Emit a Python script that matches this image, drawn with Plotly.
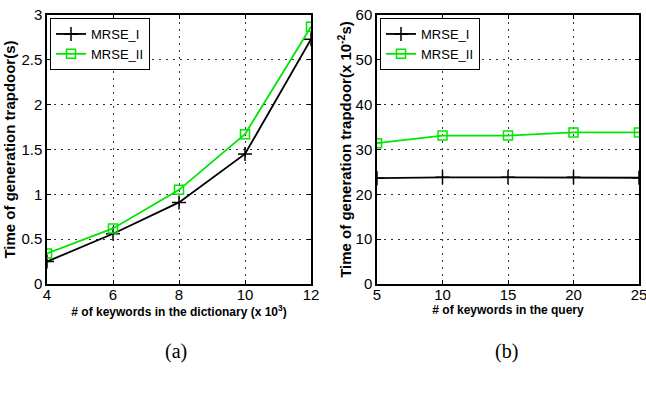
import plotly.graph_objects as go

# Data
dict_keywords = [4, 6, 8, 10, 12]
a_mrse1 = [0.25, 0.56, 0.91, 1.45, 2.73]
a_mrse2 = [0.34, 0.62, 1.05, 1.67, 2.87]

query_keywords = [5, 10, 15, 20, 25]
b_mrse1 = [23.6, 23.8, 23.8, 23.8, 23.7]
b_mrse2 = [31.4, 33.1, 33.1, 33.8, 33.8]

a_yticks = [0, 0.5, 1, 1.5, 2, 2.5, 3]
a_yticklabels = ["0", "0.5", "1", "1.5", "2", "2.5", "3"]
b_yticks = [0, 10, 20, 30, 40, 50, 60]

W, H = 646, 397
def px(x):
    return x / W
def py(y):
    return 1 - y / H

FONT = "Liberation Sans"
GREEN = "#00e600"

fig = go.Figure()

fig.add_trace(go.Scatter(x=dict_keywords, y=a_mrse1, name="MRSE_I", mode="lines+markers",
                         line=dict(color="black", width=1.8),
                         marker=dict(symbol="cross-thin", size=10, line=dict(color="black", width=1.5)),
                         xaxis="x", yaxis="y", legend="legend"))
fig.add_trace(go.Scatter(x=dict_keywords, y=a_mrse2, name="MRSE_II", mode="lines+markers",
                         line=dict(color=GREEN, width=1.8),
                         marker=dict(symbol="square-open", size=9, color=GREEN, line=dict(color=GREEN, width=1.5)),
                         xaxis="x", yaxis="y", legend="legend"))
fig.add_trace(go.Scatter(x=query_keywords, y=b_mrse1, name="MRSE_I", mode="lines+markers",
                         line=dict(color="black", width=1.8),
                         marker=dict(symbol="cross-thin", size=10, line=dict(color="black", width=1.5)),
                         xaxis="x2", yaxis="y2", legend="legend2"))
fig.add_trace(go.Scatter(x=query_keywords, y=b_mrse2, name="MRSE_II", mode="lines+markers",
                         line=dict(color=GREEN, width=1.8),
                         marker=dict(symbol="square-open", size=9, color=GREEN, line=dict(color=GREEN, width=1.5)),
                         xaxis="x2", yaxis="y2", legend="legend2"))

axis_common = dict(showline=True, linecolor="black", linewidth=1.5, mirror="ticks",
                   ticks="inside", ticklen=4, tickcolor="black", automargin=False,
                   ticklabeloverflow="allow",
                   showgrid=True, gridcolor="#333333", griddash="2px,5px", gridwidth=1,
                   zeroline=False, tickfont=dict(family=FONT, size=15, color="black"))

ydom = [py(284), py(15)]

fig.update_layout(
    width=W, height=H, margin=dict(l=0, r=0, t=0, b=0),
    paper_bgcolor="white", plot_bgcolor="white",
    xaxis=dict(domain=[px(47), px(311)], range=[4, 12], tickvals=dict_keywords, anchor="y",
               ticklabelstandoff=-4,
               title=dict(text="<b># of keywords in the dictionary (x 10<sup>3</sup>)</b>",
                          font=dict(family=FONT, size=12, color="black"), standoff=0),
               **axis_common),
    yaxis=dict(domain=ydom, range=[0, 3], tickvals=a_yticks, ticktext=a_yticklabels, anchor="x",
               ticklabelstandoff=0,
               title=dict(text="<b>Time of generation trapdoor(s)</b>",
                          font=dict(family=FONT, size=15, color="black"), standoff=2),
               **axis_common),
    xaxis2=dict(domain=[px(377), px(639)], range=[5, 25], tickvals=query_keywords, anchor="y2",
                ticklabelstandoff=-4,
                title=dict(text="<b># of keywords in the query</b>",
                           font=dict(family=FONT, size=12, color="black"), standoff=0),
                **axis_common),
    yaxis2=dict(domain=ydom, range=[0, 60], tickvals=b_yticks, anchor="x2",
                ticklabelstandoff=0,
                title=dict(text="<b>Time of generation trapdoor(x 10<sup>-2</sup>s)</b>",
                           font=dict(family=FONT, size=15, color="black"), standoff=0),
                **axis_common),
    legend=dict(x=px(50), y=py(18), xanchor="left", yanchor="top", bgcolor="white",
                bordercolor="black", borderwidth=1, font=dict(family=FONT, size=13, color="black"),
                tracegroupgap=0, itemwidth=30),
    legend2=dict(x=px(380), y=py(18), xanchor="left", yanchor="top", bgcolor="white",
                 bordercolor="black", borderwidth=1, font=dict(family=FONT, size=13, color="black"),
                 tracegroupgap=0, itemwidth=30),
    annotations=[
        dict(text="(a)", x=px(176), y=py(351), xref="paper", yref="paper", showarrow=False,
             xanchor="center", yanchor="middle",
             font=dict(family="Liberation Serif", size=20, color="black")),
        dict(text="(b)", x=px(506), y=py(351), xref="paper", yref="paper", showarrow=False,
             xanchor="center", yanchor="middle",
             font=dict(family="Liberation Serif", size=20, color="black")),
    ],
)

fig.write_html("out.html")
